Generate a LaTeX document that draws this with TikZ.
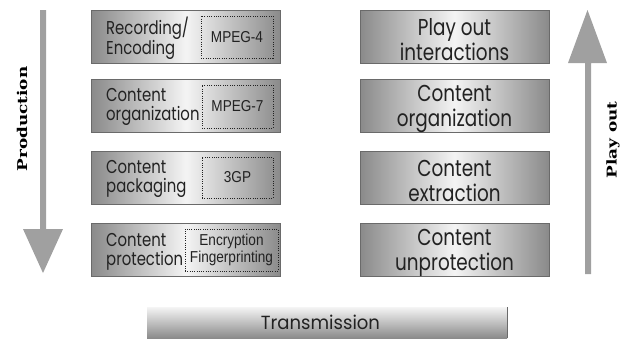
\documentclass[tikz,border=0pt]{standalone}
\usepackage{fontspec}
\newfontfamily\gothic[FakeStretch=0.8]{Poppins}
\newfontfamily\gothicwide[FakeStretch=0.95]{Poppins}
\newfontfamily\narrow[FakeStretch=0.86]{Liberation Sans}
\newfontfamily\slab[FakeStretch=1.25, UprightFont={* Bold}]{DejaVu Serif}
\definecolor{boxdark}{HTML}{8A8A8A}
\definecolor{boxlight}{HTML}{F4F4F4}
\definecolor{boxedge}{HTML}{6A6A6A}
\definecolor{arrowgray}{HTML}{A0A0A0}
\definecolor{textgray}{HTML}{222222}
\tikzset{
  stagebox/.style={draw=boxedge, line width=0.6pt, left color=boxdark, right color=boxdark,
    middle color=boxlight, minimum width=189pt, minimum height=53pt, inner sep=0pt},
  lefttext/.style={anchor=west, align=left, inner sep=0pt, text=textgray,
    font=\gothic\fontsize{18.6}{19}\selectfont},
  righttext/.style={align=center, inner sep=0pt, text=textgray,
    font=\gothic\fontsize{23}{25}\selectfont},
  formatbox/.style={draw=textgray, line width=0.8pt, dash pattern=on 1pt off 1.3pt,
    inner sep=0pt, align=center, text=textgray,
    font=\narrow\fontsize{15.8}{16.5}\selectfont},
  sidelabel/.style={rotate=90, inner sep=0pt, text=black, font=\slab\fontsize{13.5}{14}\selectfont},
  bigarrow/.style={fill=arrowgray, draw=none},
}
\begin{document}
\begin{tikzpicture}[x=1pt, y=-1pt]
\useasboundingbox (0,0) rectangle (623,338);
% left column
\node[stagebox] (L1) at (186,36.5) {};
\node[stagebox] (L2) at (186,105.5) {};
\node[stagebox] (L3) at (186,177.5) {};
\node[stagebox] (L4) at (186,250) {};
\node[lefttext] (L1t) at (106,38) {Recording/\\Encoding};
\node[lefttext] (L2t) at (106,107) {Content\\organization};
\node[lefttext] (L3t) at (106,179) {Content\\packaging};
\node[lefttext] (L4t) at (106,251.5) {Content\\protection};
\node[formatbox, minimum width=72pt, minimum height=42pt] (D1) at (237,37) {MPEG-4};
\node[formatbox, minimum width=71pt, minimum height=43pt] (D2) at (237.5,106.5) {MPEG-7};
\node[formatbox, minimum width=71pt, minimum height=41pt] (D3) at (237.5,177.5) {3GP};
\node[formatbox, minimum width=93pt, minimum height=42pt] (D4) at (231.5,250) {Encryption\\Fingerprinting};
% right column
\node[stagebox] (R1) at (454.5,36.5) {};
\node[stagebox] (R2) at (454.5,105.5) {};
\node[stagebox] (R3) at (454.5,177.5) {};
\node[stagebox] (R4) at (454.5,250) {};
\node[righttext] (R1t) at (454.5,39.5) {Play out\\interactions};
\node[righttext] (R2t) at (454.5,108.5) {Content\\organization};
\node[righttext] (R3t) at (454.5,180.5) {Content\\extraction};
\node[righttext] (R4t) at (454.5,253) {Content\\unprotection};
% transmission
\node[draw=none, top color=boxlight, bottom color=boxdark, minimum width=360pt, minimum height=31pt, inner sep=0pt, anchor=north west] (T) at (147,307) {};
\draw[boxedge, line width=0.8pt] (T.north east) -- (T.south east);
\node[inner sep=0pt, text=textgray, font=\gothicwide\fontsize{19}{20}\selectfont] (Tt) at (320.5,322) {Transmission};
% arrows
\path[bigarrow] (40,10) -- (46,10) -- (46,229) -- (63,229) -- (43,273) -- (23,229) -- (40,229) -- cycle;
\path[bigarrow] (585,274) -- (591,274) -- (591,63) -- (607,63) -- (587.5,10) -- (568,63) -- (585,63) -- cycle;
\node[sidelabel] (prod) at (22,119) {Production};
\node[sidelabel] (play) at (613,140) {Play out};
\end{tikzpicture}
\end{document}
